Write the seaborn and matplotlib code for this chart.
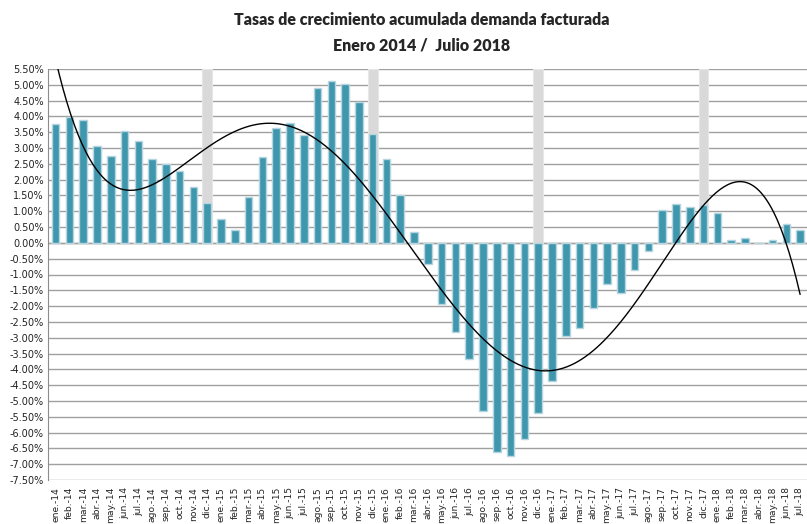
import numpy as np
import pandas as pd
import matplotlib
matplotlib.use("Agg")
import matplotlib.pyplot as plt
import seaborn as sns

# meses ene-2014 .. jul-2018
meses = ['ene.', 'feb.', 'mar.', 'abr.', 'may.', 'jun.',
         'jul.', 'ago.', 'sep.', 'oct.', 'nov.', 'dic.']
anios = ['14', '15', '16', '17', '18']
etiquetas = [f'{m}-{a}' for a in anios for m in meses][:55]

# tasa de crecimiento acumulada (%)
tasa_2014 = [3.76, 3.99, 3.89, 3.08, 2.75, 3.54, 3.22, 2.64, 2.49, 2.28, 1.78, 1.25]
tasa_2015 = [0.74, 0.41, 1.46, 2.73, 3.62, 3.80, 3.41, 4.89, 5.13, 5.03, 4.47, 3.45]
tasa_2016 = [2.64, 1.53, 0.34, -0.66, -1.94, -2.83, -3.68, -5.33, -6.60, -6.73, -6.21, -5.38]
tasa_2017 = [-4.38, -2.96, -2.70, -2.07, -1.31, -1.57, -0.85, -0.27, 1.04, 1.22, 1.13, 1.21]
tasa_2018 = [0.95, 0.08, 0.14, 0.00, 0.08, 0.59, 0.40]
tasa = tasa_2014 + tasa_2015 + tasa_2016 + tasa_2017 + tasa_2018

# marca de cierre de año (diciembre)
cierre = [5.5 if e.startswith('dic.') else 0.0 for e in etiquetas]

df = pd.DataFrame({'mes': etiquetas, 'tasa': tasa, 'cierre': cierre})

sns.set_style("white")
plt.rcParams['font.family'] = ['DejaVu Sans']

fig = plt.figure(figsize=(8.07, 5.24), dpi=100)
ax = fig.add_axes([48 / 807, 1 - 480 / 524, 1 - 48 / 807, (480 - 69) / 524])

# bandas grises de diciembre
sns.barplot(data=df, x='mes', y='cierre', color='#d9d9d9', saturation=1,
            width=0.7, edgecolor='#e6e6e6', linewidth=0.8, ax=ax, zorder=2)
# barras de la tasa
sns.barplot(data=df, x='mes', y='tasa', color='#3f97ae', saturation=1,
            width=0.55, edgecolor='#b5d6e0', linewidth=1.0, ax=ax, zorder=3)

# linea de tendencia polinómica (orden 5) sobre los datos
xi = np.arange(len(tasa))
coef = np.polyfit(xi, tasa, 5)
xs = np.linspace(0, len(tasa) - 1, 400)
ax.plot(xs, np.polyval(coef, xs), color='black', lw=1.0, zorder=4)

ax.set_ylim(-7.5, 5.5)
ax.set_xlim(-0.55, len(tasa) - 0.5)
yt = np.arange(-7.5, 5.51, 0.5)
ax.set_yticks(yt)
ax.set_yticklabels([f'{v:.2f}%' for v in yt], fontsize=7, color='#222222')
ax.yaxis.grid(True, color='#a0a0a0', lw=1.0)
ax.set_axisbelow(True)
ax.axhline(0, color='#a0a0a0', lw=1.0, zorder=1)

ax.set_xticks(xi)
ax.set_xticklabels(etiquetas, rotation=90, fontsize=6.6, color='#222222')
ax.tick_params(axis='x', pad=5, length=0)
ax.tick_params(axis='y', pad=3, length=0)
ax.set_xlabel('')
ax.set_ylabel('')

for s in ['top', 'right', 'bottom']:
    ax.spines[s].set_visible(False)
ax.spines['left'].set_color('#8c8c8c')

fig.text(0.522, 0.962, 'Tasas de crecimiento acumulada demanda facturada',
         ha='center', va='center', fontsize=11.5, fontweight='heavy', family='Lato')
fig.text(0.522, 0.913, 'Enero 2014 /  Julio 2018',
         ha='center', va='center', fontsize=11.5, fontweight='heavy', family='Lato')

fig.savefig('out.png', dpi=100)
